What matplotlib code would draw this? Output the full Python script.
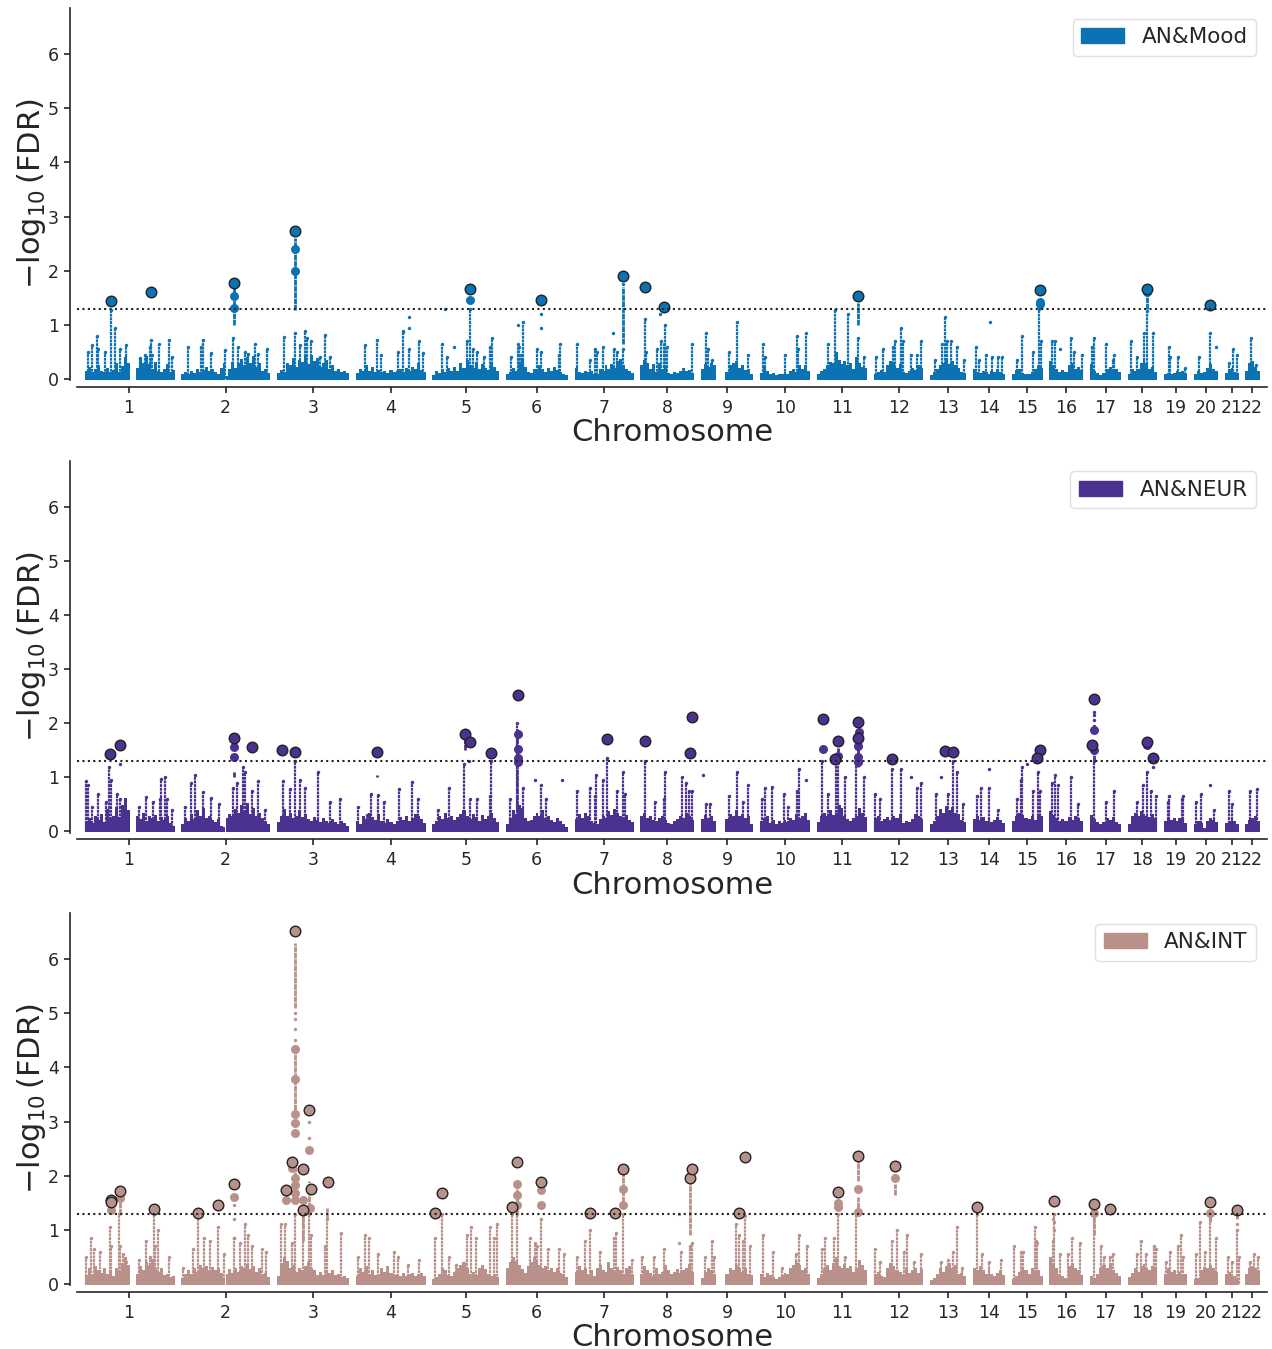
import matplotlib
matplotlib.use('Agg')
import matplotlib.pyplot as plt
from matplotlib.patches import Patch
import numpy as np

# Genome positions on a common axis
chrom_labels = [str(i) for i in range(1, 23)]
chrom_ticks = [129, 225.5, 312.7, 390.5, 465.7, 536.7, 604, 667, 727, 785, 842,
               898.7, 948, 989, 1027, 1066, 1105.5, 1142, 1175.5, 1205.7, 1231.5, 1252]
chrom_start = [85, 181, 277, 356, 432, 506, 575, 640, 701, 760, 817,
               874, 930, 973, 1012, 1049, 1090, 1128, 1164, 1194, 1225, 1245]
chrom_end = [175, 270, 349, 426, 499, 568, 634, 694, 753, 810, 867,
             923, 966, 1005, 1043, 1083, 1121, 1157, 1187, 1218, 1239, 1260]

# AN&Mood
mood_mass = [
    [.16, .24, .14, .2, .26, .15, .13, .22, .14, .17, .3, .14, .25, .42, .3, 0, 0, .22, .38, .3, .44, .28, .2, .32, .16, .13, .2, .28, .14, .18],
    [.1, .13, .11, .16, .12, .2, .14, .18, .24, .15, .2, .14, .1, .22, .3, .07, .2, .32, .22, .3, .38, .26, .42, .3, .44, .24, .3, .16, .2, .12],
    [.12, .18, .14, .3, .26, .4, .24, .36, .32, .42, .28, .46, .34, .4, .24, .3, .36, .2, .26, .16, .2, .13, .15, .12],
    [.12, .2, .15, .26, .16, .24, .13, .18, .14, .16, .12, .17, .13, .15, .2, .14, .22, .16, .24, .2, .3, .18, .14],
    [.08, .16, .12, .2, .14, .22, .15, .24, .16, .3, .22, .36, .26, .22, .32, .2, .28, .22, .18, .3, .24, .16],
    [.1, .14, .22, .16, .3, .36, .24, .13, .12, .2, .16, .26, .2, .14, .22, .15, .24, .18, .14, .1, .08],
    [.22, .14, .12, .16, .13, .15, .11, .1, .2, .16, .26, .2, .28, .22, .34, .38, .26, .2, .16, .12],
    [.26, .36, .3, .2, .28, .14, .3, .2, .24, .12, .1, .14, .12, .16, .22, .15, .18, .12],
    [.2, .28, .24, .3, .26, 0, 0, 0, .14, .26, .3, .34, .22, .26, .18, .2, .1],
    [.12, .22, .16, .1, .12, .09, .11, .1, .13, .1, .16, .2, .14, .26, .2, .26, .16],
    [.1, .16, .2, .26, .32, .3, .5, .36, .28, .34, .26, .3, .2, .42, .3, .24, .22],
    [.1, .14, .18, .14, .26, .34, .3, .22, .28, .14, .12, .16, .22, .18, .26, .22],
    [.08, .14, .2, .26, .3, .36, .28, .34, .26, .22, .14, .12],
    [.2, .14, .12, .16, .13, .1, .15, .13, .2, .14, .11],
    [.1, .18, .2, .12, .1, .11, .14, .2, .26, .22],
    [.34, .26, .2, .14, .18, .14, .26, .3, .2, .24, .18],
    [.28, .16, .12, .08, .12, .2, .24, .18, .2, .13],
    [.1, .2, .16, .2, .3, .36, .3, .2, .24, .14],
    [.1, .12, .1, .12, .16, .13, .15, .12],
    [.1, .15, .12, .13, .22, .28, .2, .16],
    [.12, .2, .22, .14, .12],
    [.16, .3, .34, .24, .16],
]
mood_spike_x = [88, 92, 97, 98, 105, 111, 115, 120, 126, 140, 145, 150, 151, 152, 159, 169, 172,
                188, 201, 203, 211, 225, 233, 238, 245, 248, 255, 258, 267,
                284, 295, 300, 305, 307, 311, 320, 325, 330,
                365, 377, 381, 398, 403, 409, 419, 423,
                442, 447, 467, 470, 473, 477, 484, 490, 492,
                511, 518, 519, 521, 523, 537, 541, 559, 560,
                577, 590, 595, 597, 603, 614, 617, 623,
                645, 646, 657, 661, 664, 665, 667, 692,
                706, 708, 712, 729, 737, 748,
                763, 765, 785, 797, 798, 806,
                828, 835, 848, 858, 864,
                876, 883, 893, 895, 901, 903, 911, 917, 921,
                935, 942, 945, 947, 951, 957, 964,
                976, 979, 986, 992, 998, 1002,
                1017, 1022, 1033, 1039, 1041,
                1052, 1055, 1071, 1074, 1082,
                1092, 1094, 1106, 1113, 1114,
                1131, 1137, 1144, 1147, 1153,
                1169, 1170, 1178, 1185,
                1199, 1210, 1229, 1233, 1237, 1251, 1256]
mood_spike_y = [.5, .63, .8, .55, .5, 1.28, .95, .55, .63, .38, .45, .6, .72, .45, .65, .72, .4,
                .6, .6, .72, .48, .53, .75, .6, .5, .47, .65, .47, .55,
                .77, .85, .63, .88, .75, .7, .4, .82, .4,
                .63, .72, .45, .5, .87, .55, .7, .48,
                .65, .4, .7, 1.3, .55, .5, .4, .6, .75,
                .4, .65, .6, .45, 1.05, .55, .5, .45, .65,
                .65, .35, .55, .5, .6, .55, .5, .55,
                1.1, .5, .55, .7, .65, 1.0, .6, .65,
                .85, .55, .35, .5, 1.05, .45,
                .65, .4, .45, .8, .55, .85,
                .65, 1.28, 1.2, .75, .4,
                .4, .55, .6, .7, .95, .7, .45, .45, .7,
                .35, .65, 1.15, .7, .7, .6, .35,
                .6, .35, .45, .4, .4, .4,
                .35, .8, .5, 1.3, .7,
                .7, .7, .75, .5, .45,
                .6, .75, .65, .35, .45,
                .7, .4, .85, 1.25, .85,
                .6, .4, .4, .2,
                .4, .85, .3, .55, .45, .75, .25]
mood_stem_x = [295, 623, 234, 1040, 858, 1147]
mood_stem_lo = [1.28, .65, 1.0, 1.3, 1.0, 1.3]
mood_stem_hi = [2.6, 1.7, 1.7, 1.45, 1.4, 1.6]
mood_dot_x = [409, 409, 403, 445, 454, 613, 660, 990, 1060, 1216, 518, 541, 541, 623]
mood_dot_y = [1.15, .95, .88, 1.3, .6, .85, 1.2, 1.05, .55, .6, 1.0, 1.2, .95, 1.75]
mood_second_x = [234, 234, 295, 295, 470, 1040, 1040, 1147]
mood_second_y = [1.53, 1.31, 2.40, 1.99, 1.45, 1.42, 1.38, 1.6]
mood_lead_x = [111, 151, 234, 295, 470, 541, 623, 645, 664, 858, 1040, 1147, 1210]
mood_lead_y = [1.44, 1.61, 1.77, 2.73, 1.66, 1.45, 1.91, 1.69, 1.33, 1.54, 1.65, 1.67, 1.37]

# AN&NEUR
neur_mass = [
    [.2, .26, .16, .3, .22, .34, .18, .42, .24, .3, .46, .28, .5, .62, .4, 0, 0, .3, .24, .36, .2, .3, .26, .32, .2, .28, .22, .3, .16, .12],
    [.14, .26, .2, .34, .24, .4, .3, .44, .26, .3, .22, .18, .24, .12, .1, .26, .34, .3, .42, .36, .5, .4, .54, .34, .44, .3, .36, .26, .2, .14],
    [.18, .3, .42, .3, .36, .26, .3, .4, .28, .34, .24, .2, .28, .22, .18, .26, .2, .16, .24, .18, .14, .2, .16, .12],
    [.2, .14, .3, .24, .36, .28, .22, .34, .2, .16, .24, .18, .14, .2, .28, .22, .3, .2, .26, .34, .3, .24, .16],
    [.14, .2, .3, .24, .36, .26, .3, .22, .28, .34, .4, .3, .24, .34, .28, .2, .32, .24, .3, .36, .26, .18],
    [.14, .26, .4, .34, .5, .44, .26, .2, .22, .3, .36, .3, .4, .26, .3, .22, .18, .26, .2, .14, .1],
    [.24, .34, .26, .36, .3, .2, .16, .14, .24, .3, .26, .38, .32, .42, .36, .3, .24, .32, .22, .18],
    [.3, .36, .26, .3, .22, .2, .26, .3, .22, .16, .14, .2, .24, .3, .26, .36, .3, .22],
    [.24, .32, .26, .3, .2, 0, 0, 0, .24, .34, .3, .4, .3, .34, .26, .3, .14],
    [.2, .26, .3, .16, .22, .14, .2, .16, .22, .18, .26, .22, .34, .26, .3, .36, .22],
    [.18, .3, .36, .3, .4, .32, .36, .5, .44, .3, .24, .2, .26, .3, .44, .36, .28],
    [.26, .3, .2, .24, .28, .22, .3, .26, .34, .16, .2, .18, .24, .34, .3, .24],
    [.14, .2, .3, .42, .36, .48, .4, .46, .36, .34, .22, .18],
    [.24, .3, .22, .28, .2, .24, .18, .22, .28, .22, .16],
    [.2, .3, .36, .32, .26, .24, .3, .22, .34, .3],
    [.38, .32, .26, .2, .24, .2, .28, .22, .3, .26, .2],
    [.32, .24, .18, .14, .18, .26, .22, .28, .18, .14],
    [.14, .3, .36, .3, .38, .34, .3, .28, .34, .26],
    [.2, .26, .22, .26, .2, .26, .22, .16],
    [.14, .2, .16, .08, .2, .26, .22, .18],
    [.16, .2, .22, .2, .14],
    [.14, .22, .26, .3, .2],
]
neur_spike_x = [86, 88, 92, 98, 106, 109, 111, 117, 120, 125, 139, 146, 153, 160, 161, 165, 167, 172,
                185, 191, 195, 203, 211, 219, 233, 237, 243, 245, 252, 258, 265,
                283, 290, 295, 300, 305, 318, 330, 340,
                358, 367, 371, 378, 384, 399, 412, 418,
                438, 449, 464, 470, 477, 490, 491,
                510, 517, 523, 541, 546,
                577, 590, 595, 596, 603, 607, 617, 623, 625,
                645, 655, 664, 665, 682, 686, 689, 692,
                706, 710, 729, 737, 743, 748,
                762, 765, 772, 784, 788, 797, 799,
                822, 828, 836, 838, 845, 856, 864,
                875, 880, 892, 901, 917, 921,
                936, 948, 953, 957, 963,
                977, 981, 989, 998,
                1017, 1021, 1022, 1033, 1038, 1040,
                1052, 1055, 1058, 1071, 1078,
                1094, 1106, 1114,
                1137, 1143, 1147, 1151, 1156,
                1168, 1169, 1182, 1183,
                1196, 1201, 1214, 1229, 1232, 1250, 1257]
neur_spike_y = [.93, .85, .45, .7, .55, 1.2, .95, .7, .6, .35, .45, .63, .55, .6, .97, 1.0, .6, .4,
                .45, .9, 1.05, .73, .62, .5, .8, .9, 1.2, 1.1, .75, .93, .4,
                .93, .78, 1.3, .95, .8, 1.1, .55, .6,
                .45, .3, .7, .67, .55, .78, .92, .6,
                .4, .8, 1.25, .6, .6, .65, 1.3,
                .6, 2.0, .8, .85, .6,
                .75, .8, .65, 1.05, .95, 1.35, .75, 1.1, .7,
                1.3, .55, .6, 1.1, 1.0, .9, .75, .75,
                .5, .5, .65, 1.1, .55, .85,
                .6, .8, .82, .7, .45, .75, 1.15,
                1.3, .7, 1.3, 1.3, 1.0, 1.3, 1.0,
                .7, .6, 1.15, 1.15, .8, .9,
                .7, .7, 1.3, 1.1, .5,
                .65, .8, .8, .4,
                .6, .95, 1.2, .75, 1.1, .75,
                .9, 1.05, .85, 1.0, .5,
                1.3, .55, .75,
                .55, .85, 1.1, .75, .65,
                .55, .65, .6, .65,
                .55, .7, .4, .75, .5, .75, .78]
neur_stem_x = [858, 1094, 465, 377, 234, 838, 517]
neur_stem_lo = [1.2, 1.3, 1.5, 1.0, 1.0, 1.25, 0]
neur_stem_hi = [1.9, 1.6, 1.7, 1.05, 1.1, 1.55, 1.9]
neur_dot_x = [120, 562, 535, 703, 806, 911, 941, 989, 1210, 1094, 1094, 1094, 1094, 1153, 1027, 469]
neur_dot_y = [1.25, .95, .95, 1.05, .95, 1.0, 1.0, 1.15, .85, 1.95, 2.05, 2.15, 2.2, 1.2, 1.25, 1.3]
neur_second_x = [234, 234, 518, 518, 518, 518, 823, 838, 859, 858, 858, 858, 1094, 1094, 1147]
neur_second_y = [1.56, 1.37, 1.8, 1.52, 1.35, 1.28, 1.53, 1.4, 1.83, 1.57, 1.37, 1.29, 1.87, 1.5, 1.6]
neur_lead_x = [110, 120, 234, 252, 282, 295, 377, 465, 470, 491, 518, 607, 645, 692, 690, 823, 838, 835, 858, 858,
               892, 945, 953, 1040, 1037, 1094, 1092, 1147, 1153]
neur_lead_y = [1.43, 1.6, 1.73, 1.56, 1.5, 1.46, 1.46, 1.8, 1.65, 1.45, 2.52, 1.71, 1.67, 2.12, 1.45, 2.08, 1.68, 1.33, 2.03, 1.72,
               1.33, 1.48, 1.46, 1.5, 1.35, 2.44, 1.59, 1.66, 1.35]

# AN&INT
int_mass = [
    [.18, .3, .2, .34, .26, .22, .3, .2, .26, .16, .3, .22, .4, .5, .36, 0, 0, .2, .34, .26, .42, .36, .48, .3, .24, .3, .18, .2, .14, .16],
    [.12, .2, .26, .2, .3, .24, .36, .3, .34, .26, .32, .26, .3, .22, .1, .2, .28, .22, .3, .24, .34, .3, .38, .28, .34, .24, .3, .2, .22, .14],
    [.16, .4, .5, .44, .3, .36, .24, .3, .26, .34, .42, .3, .26, .18, .24, .18, .26, .22, .26, .18, .2, .14, .16, .12],
    [.16, .3, .24, .34, .2, .26, .18, .2, .3, .24, .34, .22, .18, .2, .16, .22, .16, .2, .22, .16, .2, .22, .16],
    [.1, .14, .2, .3, .26, .18, .16, .24, .3, .36, .42, .3, .2, .24, .18, .3, .36, .28, .2, .16, .2, .14],
    [.3, .42, .5, .44, .36, .28, .22, .34, .42, .5, .44, .36, .3, .34, .26, .3, .24, .3, .22, .2, .14],
    [.24, .34, .26, .3, .2, .26, .16, .3, .36, .26, .24, .42, .3, .22, .32, .26, .2, .3, .34, .2],
    [.2, .34, .26, .22, .16, .3, .2, .24, .36, .26, .2, .24, .28, .22, .26, .3, .38, .24],
    [.12, .24, .3, .26, .2, 0, 0, 0, .2, .3, .26, .36, .3, .24, .3, .2, .18],
    [.2, .14, .22, .18, .14, .1, .14, .18, .22, .2, .3, .36, .42, .36, .26, .3, .2],
    [.12, .2, .3, .36, .26, .4, .5, .34, .3, .38, .3, .34, .24, .3, .46, .36, .26],
    [.2, .24, .16, .14, .3, .4, .34, .26, .24, .2, .3, .22, .26, .3, .22, .28],
    [.08, .12, .2, .3, .24, .34, .4, .3, .36, .2, .22, .16],
    [.3, .26, .34, .26, .2, .28, .2, .16, .22, .26, .18],
    [.1, .16, .24, .3, .26, .2, .3, .22, .26, .16],
    [.5, .4, .3, .2, .16, .12, .34, .4, .3, .26, .18],
    [.16, .12, .2, .3, .36, .3, .4, .26, .22, .16],
    [.14, .22, .3, .24, .34, .38, .3, .26, .34, .3],
    [.2, .3, .24, .26, .2, .24, .18, .2],
    [.1, .12, .26, .32, .3, .36, .3, .24],
    [.2, .24, .2, .16, .12],
    [.2, .3, .34, .3, .26],
]
int_spike_x = [86, 91, 94, 100, 110, 111, 119, 120, 123, 126, 139, 146, 150, 154, 155, 158, 169,
               183, 193, 198, 204, 210, 218, 224, 234, 240, 245, 248, 252, 262, 266,
               281, 285, 292, 295, 303, 309, 311, 325, 327, 341,
               358, 365, 369, 378, 394, 398, 408, 419,
               435, 442, 449, 456, 467, 471, 476, 490, 494, 497,
               512, 517, 530, 535, 537, 541, 548, 559, 564,
               577, 585, 590, 600, 614, 616, 623, 632,
               642, 654, 664, 681, 690, 692,
               705, 712, 714, 736, 739, 743, 745, 750,
               763, 773, 782, 796, 799, 807,
               822, 825, 834, 838, 845, 856,
               875, 880, 892, 897, 904, 907, 914, 921,
               941, 948, 953, 957, 962,
               977, 982, 989, 1001,
               1014, 1021, 1023, 1035, 1036, 1037,
               1053, 1054, 1060, 1068, 1072, 1080,
               1094, 1101, 1104, 1110, 1113,
               1137, 1141, 1146, 1154, 1156,
               1166, 1170, 1178, 1181, 1183,
               1196, 1200, 1205, 1210, 1216,
               1228, 1232, 1237, 1239, 1250, 1254, 1258]
int_spike_y = [.5, .85, .65, .6, 1.05, .7, 1.3, .7, .55, .4, .45, .8, .5, 1.3, .7, 1.0, .5,
               .3, .65, 1.3, .85, .8, 1.05, .55, .85, .75, 1.1, .9, .7, .65, .6,
               1.1, 1.1, .75, 1.3, 1.3, 1.3, .9, .7, 1.2, .95,
               .5, .9, .85, .55, .6, .5, .35, .45,
               .85, 1.3, .5, .35, .9, 1.05, .85, 1.05, .85, 1.1,
               1.3, 1.3, .85, .75, .7, 1.2, .65, .65, .55,
               .5, .8, 1.0, .6, .85, .95, 1.3, .45,
               .5, .5, .65, .6, .7, .75,
               .5, .8, .5, 1.1, .9, .8, 1.25, .7,
               .9, .6, .3, .55, .9, .7,
               .65, .85, .85, 1.3, .5, 1.3,
               .65, .4, .8, 1.0, .6, .9, .4, .55,
               .4, .45, .6, 1.05, .3,
               1.3, .55, .4, .45,
               .7, .6, .6, 1.05, .8, .75,
               .8, 1.3, .55, .55, .85, .75,
               1.3, .7, .5, .5, .55,
               .55, .8, .55, .7, .65,
               .4, .6, .7, .9, .5,
               .55, 1.15, .6, 1.2, .85,
               .5, .4, 1.0, .5, .4, .55, .5]
int_stem_x = [295, 295, 295, 690, 623, 303, 858, 858, 895, 517, 1094, 1237, 1210, 309, 327, 154, 120]
int_stem_lo = [5.1, 3.1, 1.5, .9, 1.4, .8, 1.9, 1.3, 1.65, 1.3, .9, 1.2, 1.15, 1.3, 1.2, 1.3, 1.3]
int_stem_hi = [6.3, 4.3, 2.2, 1.9, 2.1, 1.35, 2.3, 1.6, 1.85, 1.9, 1.3, 1.3, 1.3, 1.9, 1.4, 1.38, 1.65]
int_dot_x = [295, 295, 295, 295, 309, 309, 234, 234, 679, 679, 1054, 1054, 1054, 1053, 1237, 1237, 234]
int_dot_y = [5.0, 4.9, 4.7, 4.5, 3.0, 2.7, 1.45, 1.2, 1.3, .75, 1.3, 1.15, 1.0, 1.2, 1.1, 1.0, .85]
int_second_x = [111, 120, 234, 286, 295, 295, 295, 295, 295, 309, 292, 295, 295, 295, 295, 303, 310,
                517, 517, 517, 541, 541, 623, 623, 858, 858, 895, 838, 838, 1094, 1210]
int_second_y = [1.37, 1.58, 1.6, 1.56, 4.33, 3.78, 3.14, 2.97, 2.78, 2.47, 2.15, 1.95, 1.82, 1.68, 1.55, 1.56, 1.4,
                1.84, 1.64, 1.45, 1.74, 1.45, 1.75, 1.46, 1.76, 1.33, 1.95, 1.5, 1.42, 1.31, 1.31]
int_lead_x = [111, 111, 120, 154, 198, 218, 234, 286, 292, 295, 303, 303, 309, 311, 328, 435, 442, 512, 517, 541,
              590, 615, 623, 690, 692, 739, 745, 838, 858, 895, 977, 1054, 1094, 1110, 1210, 1237]
int_lead_y = [1.55, 1.51, 1.71, 1.38, 1.31, 1.45, 1.84, 1.73, 2.25, 6.51, 2.12, 1.37, 3.22, 1.75, 1.88, 1.31, 1.68, 1.43, 2.26, 1.88,
              1.32, 1.32, 2.13, 1.96, 2.12, 1.32, 2.34, 1.69, 2.36, 2.17, 1.43, 1.54, 1.47, 1.38, 1.51, 1.37]

names = ['AN&Mood', 'AN&NEUR', 'AN&INT']
colors = ['#0b72b4', '#4b3190', '#b9918a']
fdr_line = 1.3

W, H = 1272, 1349
plt.rcParams['text.color'] = '.15'
plt.rcParams['axes.labelcolor'] = '.15'
plt.rcParams['xtick.color'] = '.15'
plt.rcParams['ytick.color'] = '.15'
plt.rcParams['mathtext.default'] = 'regular'
fig = plt.figure(figsize=(W / 100, H / 100), dpi=100)


def draw_panel(top, name, color, mass, spike_x, spike_y, stem_x, stem_lo, stem_hi,
               dot_x, dot_y, second_x, second_y, lead_x, lead_y):
    ax = fig.add_axes([77 / W, 1 - (top + 372) / H, 1190 / W, 372 / H])
    for s, e, h in zip(chrom_start, chrom_end, mass):
        edges = np.linspace(s, e, len(h) + 1)
        ax.bar(edges[:-1], h, width=np.diff(edges), align='edge', bottom=-0.01,
               color=color, linewidth=0, zorder=2)
    ax.vlines(spike_x, 0, spike_y, color=color, lw=1.6, linestyles=(0, (1.3, 0.35)), zorder=2)
    ax.vlines(stem_x, stem_lo, stem_hi, color=color, lw=2.0, linestyles=(0, (2, 0.25)), zorder=2)
    ax.scatter(spike_x, spike_y, s=6, color=color, linewidths=0, zorder=3)
    ax.scatter(dot_x, dot_y, s=6, color=color, linewidths=0, zorder=3)
    ax.scatter(second_x, second_y, s=42, color=color, linewidths=0, zorder=4)
    ax.scatter(lead_x, lead_y, s=58, color=color, edgecolors='#222222', linewidths=1.0, zorder=5)
    ax.axhline(fdr_line, color='#222222', lw=1.5, ls=(0, (1, 1.6)), zorder=6)

    ax.set_xlim(77, 1267)
    ax.set_ylim(-0.0185, 6.85)
    ax.set_xticks(chrom_ticks)
    ax.set_xticklabels(chrom_labels)
    ax.set_yticks(range(7))
    ax.tick_params(axis='y', labelsize=12.5, length=4.5, width=1.2)
    ax.tick_params(axis='x', labelsize=12.5, length=4.5, width=1.2, pad=4)
    ax.set_xlabel('Chromosome', fontsize=22, labelpad=1)
    ax.set_ylabel(r'$-\log_{10}(FDR)$', fontsize=22, labelpad=0)
    ax.spines['top'].set_visible(False)
    ax.spines['right'].set_visible(False)
    ax.spines['left'].set_position(('outward', 5))
    ax.spines['bottom'].set_position(('outward', 5))
    ax.spines['left'].set_linewidth(1.2)
    ax.spines['bottom'].set_linewidth(1.2)
    ax.spines['left'].set_color('.15')
    ax.spines['bottom'].set_color('.15')
    ax.legend(handles=[Patch(color=color, label=name)], loc='upper right', fontsize=15.5,
              frameon=True, edgecolor='.85')


draw_panel(8, names[0], colors[0], mood_mass, mood_spike_x, mood_spike_y, mood_stem_x, mood_stem_lo,
           mood_stem_hi, mood_dot_x, mood_dot_y, mood_second_x, mood_second_y, mood_lead_x, mood_lead_y)
draw_panel(460.5, names[1], colors[1], neur_mass, neur_spike_x, neur_spike_y, neur_stem_x, neur_stem_lo,
           neur_stem_hi, neur_dot_x, neur_dot_y, neur_second_x, neur_second_y, neur_lead_x, neur_lead_y)
draw_panel(913, names[2], colors[2], int_mass, int_spike_x, int_spike_y, int_stem_x, int_stem_lo,
           int_stem_hi, int_dot_x, int_dot_y, int_second_x, int_second_y, int_lead_x, int_lead_y)

fig.savefig('out.png', dpi=100)
